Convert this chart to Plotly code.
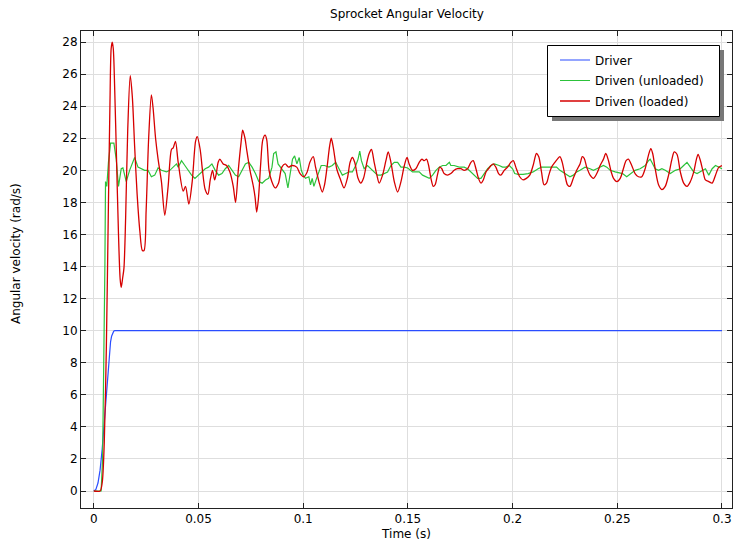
import plotly.graph_objects as go

# ---------------- data ----------------
t_driver = [0, 0.001, 0.002, 0.003, 0.004, 0.005, 0.006, 0.007, 0.008, 0.0085, 0.009, 0.0095, 0.010, 0.3]
v_driver = [0, 0.1, 0.5, 1.3, 2.6, 4.3, 6.2, 8.0, 9.3, 9.65, 9.88, 9.97, 10, 10]

t_unloaded = [
    0, 0.0035, 0.0042, 0.0048, 0.0053, 0.0056, 0.0062, 0.0070, 0.0080, 0.0096,
    0.0107, 0.0118, 0.0131, 0.0139, 0.0155, 0.0171, 0.0187, 0.0195, 0.0211, 0.0227,
    0.0243, 0.0259, 0.0275, 0.0291, 0.0307, 0.0323, 0.0347, 0.0363, 0.0379, 0.0395,
    0.0403, 0.0419, 0.0435, 0.0451, 0.0467, 0.0483, 0.0500, 0.0516, 0.0532, 0.0548,
    0.0564, 0.0580, 0.0596, 0.0612, 0.0628, 0.0644, 0.0660, 0.0676, 0.0692, 0.0708,
    0.0724, 0.0740, 0.0756, 0.0772, 0.0788, 0.0804, 0.0820, 0.0835, 0.0851, 0.0859,
    0.0870, 0.0880, 0.0891, 0.0902, 0.0914, 0.0927, 0.0938, 0.0949, 0.0959, 0.0970,
    0.0981, 0.0991, 0.1000, 0.1011, 0.1027, 0.1035, 0.1043, 0.1051, 0.1064, 0.1075,
    0.1086, 0.1102, 0.1123, 0.1139, 0.1155, 0.1171, 0.1187, 0.1203, 0.1219, 0.1235,
    0.1251, 0.1262, 0.1270, 0.1278, 0.1291, 0.1307, 0.1323, 0.1339, 0.1355, 0.1371,
    0.1387, 0.1403, 0.1419, 0.1435, 0.1451, 0.1467, 0.1483, 0.1499, 0.1522, 0.1554,
    0.1570, 0.1586, 0.1602, 0.1618, 0.1634, 0.1650, 0.1666, 0.1682, 0.1698, 0.1705,
    0.1721, 0.1745, 0.1769, 0.1785, 0.1801, 0.1817, 0.1833, 0.1849, 0.1865, 0.1881,
    0.1897, 0.1913, 0.1936, 0.1952, 0.1968, 0.1984, 0.2000, 0.2010, 0.2026, 0.2050,
    0.2074, 0.2098, 0.2122, 0.2138, 0.2162, 0.2186, 0.2210, 0.2226, 0.2250, 0.2274,
    0.2290, 0.2306, 0.2322, 0.2346, 0.2370, 0.2386, 0.2402, 0.2418, 0.2434, 0.2450,
    0.2466, 0.2490, 0.2506, 0.2525, 0.2545, 0.2561, 0.2585, 0.2609, 0.2633, 0.2649,
    0.2657, 0.2665, 0.2681, 0.2697, 0.2713, 0.2729, 0.2753, 0.2777, 0.2801, 0.2817,
    0.2833, 0.2849, 0.2865, 0.2881, 0.2905, 0.2921, 0.2937, 0.2953, 0.2969, 0.2985,
    0.3000,
]
v_unloaded = [
    0, 0, 2, 7, 14, 19.3, 19.0, 20.5, 21.7, 21.7,
    20.7, 19.0, 20.1, 20.15, 19.3, 20.0, 20.5, 20.8, 20.2, 20.1,
    20.0, 20.0, 19.6, 19.7, 20.15, 20.0, 19.9, 20.0, 20.2, 20.4,
    20.2, 20.6, 20.3, 20.0, 19.7, 19.5, 19.7, 19.9, 20.1, 20.2,
    20.4, 20.0, 19.7, 19.8, 20.1, 20.3, 20.0, 19.7, 19.6, 20.0,
    20.4, 20.5, 20.2, 19.8, 19.3, 19.2, 19.4, 19.5, 20.2, 21.05,
    21.15, 20.4, 20.2, 20.0, 19.8, 18.9, 19.8, 20.7, 20.9, 20.4,
    20.8, 20.0, 19.7, 19.5, 19.6, 19.1, 19.5, 19.0, 19.5, 19.9,
    20.3, 20.3, 20.2, 20.3, 20.5, 20.1, 19.7, 19.8, 19.9, 19.9,
    20.3, 20.7, 21.2, 20.6, 20.1, 20.3, 20.1, 19.9, 19.7, 19.7,
    19.8, 19.9, 20.3, 20.5, 20.5, 20.2, 20.2, 20.15, 19.9, 19.9,
    19.7, 19.6, 19.5, 19.7, 20.0, 20.2, 20.3, 20.3, 20.5, 20.3,
    20.3, 20.2, 20.2, 20.1, 19.9, 19.7, 19.5, 19.5, 19.8, 20.1,
    20.3, 20.4, 20.3, 20.2, 20.2, 20.3, 20.1, 19.8, 19.75, 19.75,
    19.8, 19.9, 20.1, 20.2, 20.2, 20.2, 20.2, 20.0, 19.8, 19.6,
    19.7, 19.9, 20.0, 20.2, 20.1, 20.0, 20.1, 20.2, 20.3, 20.2,
    20.0, 19.9, 19.85, 19.8, 19.6, 19.75, 20.0, 20.1, 20.3, 20.6,
    20.7, 20.5, 20.1, 20.0, 20.1, 20.0, 19.8, 20.0, 20.1, 20.3,
    20.5, 20.2, 19.9, 19.8, 20.0, 20.1, 19.7, 20.1, 20.3, 20.2,
    20.1,
]

t_loaded = [
    0, 0.003, 0.004, 0.005, 0.006, 0.007, 0.0077, 0.0083, 0.0088, 0.0093,
    0.0100, 0.0108, 0.0118, 0.0126, 0.0131, 0.0138, 0.0144, 0.0152, 0.0162, 0.0174,
    0.0184, 0.0195, 0.0207, 0.0220, 0.0232, 0.0240, 0.0250, 0.0262, 0.0275, 0.0283,
    0.0295, 0.0307, 0.0323, 0.0339, 0.0355, 0.0371, 0.0379, 0.0390, 0.0403, 0.0427,
    0.0438, 0.0454, 0.0470, 0.0486, 0.0494, 0.0508, 0.0519, 0.0532, 0.0545, 0.0556,
    0.0567, 0.0577, 0.0585, 0.0594, 0.0602, 0.0618, 0.0634, 0.0650, 0.0666, 0.0677,
    0.0690, 0.0703, 0.0711, 0.0722, 0.0730, 0.0746, 0.0762, 0.0770, 0.0778, 0.0786,
    0.0797, 0.0807, 0.0818, 0.0826, 0.0837, 0.0850, 0.0866, 0.0882, 0.0898, 0.0914,
    0.0930, 0.0946, 0.0969, 0.0985, 0.1003, 0.1019, 0.1032, 0.1048, 0.1059, 0.1075,
    0.1091, 0.1102, 0.1115, 0.1126, 0.1134, 0.1144, 0.1160, 0.1176, 0.1195, 0.1211,
    0.1224, 0.1235, 0.1246, 0.1262, 0.1275, 0.1288, 0.1304, 0.1315, 0.1326, 0.1339,
    0.1352, 0.1363, 0.1379, 0.1395, 0.1406, 0.1419, 0.1435, 0.1451, 0.1467, 0.1483,
    0.1496, 0.1506, 0.1522, 0.1538, 0.1554, 0.1567, 0.1578, 0.1589, 0.1599, 0.1610,
    0.1621, 0.1630, 0.1641, 0.1652, 0.1662, 0.1673, 0.1689, 0.1705, 0.1721, 0.1737,
    0.1753, 0.1769, 0.1785, 0.1801, 0.1812, 0.1825, 0.1837, 0.1849, 0.1860, 0.1873,
    0.1885, 0.1897, 0.1908, 0.1920, 0.1933, 0.1944, 0.1960, 0.1976, 0.1992, 0.2003,
    0.2018, 0.2034, 0.2050, 0.2066, 0.2082, 0.2098, 0.2114, 0.2125, 0.2138, 0.2150,
    0.2162, 0.2173, 0.2186, 0.2202, 0.2214, 0.2226, 0.2237, 0.2250, 0.2262, 0.2274,
    0.2290, 0.2306, 0.2322, 0.2333, 0.2342, 0.2354, 0.2370, 0.2386, 0.2402, 0.2418,
    0.2434, 0.2445, 0.2458, 0.2471, 0.2482, 0.2498, 0.2514, 0.2529, 0.2542, 0.2553,
    0.2569, 0.2585, 0.2601, 0.2617, 0.2633, 0.2649, 0.2660, 0.2669, 0.2681, 0.2697,
    0.2713, 0.2729, 0.2745, 0.2761, 0.2772, 0.2785, 0.2801, 0.2817, 0.2833, 0.2849,
    0.2865, 0.2878, 0.2886, 0.2897, 0.2910, 0.2921, 0.2937, 0.2953, 0.2969, 0.2985,
    0.3000,
]
v_loaded = [
    0, 0, 0.5, 3, 9, 18, 24, 27.6, 28.0, 27.6,
    25, 21, 16, 13.2, 12.7, 13.3, 13.9, 17, 22.5, 25.9,
    24.6, 21.5, 18.5, 16.2, 15.0, 15.0, 17.5, 22, 24.7, 23.9,
    22, 20.7, 19.3, 17.2, 19.0, 21.3, 21.4, 21.8, 20.5, 18.7,
    19.0, 17.9, 19.3, 21.8, 22.1, 21.3, 20.0, 18.8, 18.5, 19.4,
    20.0, 19.4, 19.8, 20.5, 20.7, 20.4, 20.3, 19.9, 19.0, 18.0,
    20.0, 21.7, 22.5, 22.0, 21.3, 20.0, 19.0, 18.35, 17.4, 18.2,
    20.4, 21.9, 22.2, 21.9, 20.0, 19.3, 18.9, 19.2, 20.2, 20.4,
    20.2, 20.3, 20.2, 19.8, 19.6, 19.9, 20.5, 20.85, 20.2, 19.3,
    18.65, 19.1, 20.3, 21.5, 22.0, 21.4, 20.1, 19.5, 18.9, 19.5,
    20.5, 20.8, 20.5, 19.5, 19.2, 19.5, 20.5, 21.05, 21.3, 20.5,
    19.7, 19.2, 19.7, 20.6, 21.15, 20.5, 19.3, 18.65, 19.3, 20.3,
    20.8, 20.4, 20.0, 20.1, 20.5, 20.7, 20.6, 20.7, 20.3, 19.5,
    19.0, 19.1, 19.7, 20.2, 20.1, 19.8, 19.7, 19.8, 20.0, 20.1,
    20.1, 20.0, 20.1, 20.5, 20.6, 20.1, 19.5, 19.2, 19.4, 19.9,
    20.1, 20.3, 20.4, 20.2, 19.8, 19.7, 20.0, 20.2, 20.5, 20.6,
    20.1, 19.6, 19.4, 19.5, 19.7, 20.3, 21.05, 20.85, 19.9, 19.1,
    19.2, 19.7, 20.2, 20.5, 20.7, 20.85, 20.5, 19.7, 19.1, 19.0,
    19.5, 20.0, 20.4, 20.85, 20.75, 20.2, 19.7, 19.5, 19.8, 20.3,
    20.7, 21.05, 20.6, 19.9, 19.5, 19.3, 19.5, 20.1, 20.6, 20.7,
    20.3, 19.8, 19.6, 19.6, 20.1, 20.95, 21.35, 21.05, 20.1, 19.1,
    18.8, 19.0, 19.7, 20.7, 21.15, 21.0, 19.9, 19.2, 19.0, 19.3,
    19.9, 20.7, 21.0, 20.6, 19.9, 19.4, 19.3, 19.2, 19.7, 20.2,
    20.3,
]

x_tickvals = [0, 0.05, 0.1, 0.15, 0.2, 0.25, 0.3]
x_ticktext = ["0", "0.05", "0.1", "0.15", "0.2", "0.25", "0.3"]
y_tickvals = list(range(0, 29, 2))
y_ticktext = [str(v) for v in y_tickvals]

series_names = ["Driver", "Driven (unloaded)", "Driven (loaded)"]
series_colors = ["#2a4dff", "#2cc23a", "#d60000"]

# ---------------- layout geometry (pixels) ----------------
W, H = 735, 542
L, R, T, B = 81, 732, 31, 508
pw, ph = R - L, B - T


def px_x(p):
    return (p - L) / pw


def px_y(p):
    return (B - p) / ph


FONT = "DejaVu Sans"

fig = go.Figure()
fig.add_trace(go.Scatter(x=t_driver, y=v_driver, mode="lines", name=series_names[0],
                         legendgroup="a",
                         line=dict(color=series_colors[0], width=1.2)))
fig.add_trace(go.Scatter(x=t_unloaded, y=v_unloaded, mode="lines", name=series_names[1],
                         legendgroup="b",
                         line=dict(color=series_colors[1], width=1.2)))
fig.add_trace(go.Scatter(x=t_loaded, y=v_loaded, mode="lines", name=series_names[2],
                         legendgroup="c",
                         line=dict(color=series_colors[2], width=1.3, shape="spline", smoothing=0.8)))

axis_common = dict(
    showline=True, linecolor="#222222", linewidth=1, mirror="allticks",
    ticks="inside", ticklen=5, tickcolor="#222222", tickwidth=1,
    showgrid=True, gridcolor="#dedede", gridwidth=1, zeroline=False,
    tickfont=dict(family=FONT, size=12, color="#000000"),
)

fig.update_layout(
    width=W, height=H,
    margin=dict(l=L, r=W - R, t=T, b=H - B, pad=0),
    paper_bgcolor="white", plot_bgcolor="white",
    font=dict(family=FONT, size=12, color="#000000"),
    title=dict(text="Sprocket Angular Velocity", x=407 / W, xanchor="center",
               y=1 - 14 / H, yanchor="middle", font=dict(family=FONT, size=12, color="#000000")),
    xaxis=dict(range=[-0.00611, 0.30478], tickvals=x_tickvals, ticktext=x_ticktext,
               title=dict(text="Time (s)", standoff=4, font=dict(family=FONT, size=12)),
               **axis_common),
    yaxis=dict(range=[-1.06, 28.69], tickvals=y_tickvals, ticktext=y_ticktext,
               **axis_common),
    showlegend=True,
    legend=dict(x=px_x(555), y=px_y(45.5), xanchor="left", yanchor="top",
                bgcolor="rgba(0,0,0,0)", borderwidth=0, tracegroupgap=1.5,
                font=dict(family=FONT, size=12, color="#000000")),
)

# legend drop shadow and box
fig.add_shape(type="rect", xref="paper", yref="paper",
              x0=px_x(552), x1=px_x(724), y0=px_y(121), y1=px_y(50),
              fillcolor="#777777", line=dict(width=0), layer="above")
fig.add_shape(type="rect", xref="paper", yref="paper",
              x0=px_x(547.5), x1=px_x(719.5), y0=px_y(116.5), y1=px_y(45.5),
              fillcolor="white", line=dict(color="#000000", width=1), layer="above")

# y axis title
fig.add_annotation(text="Angular velocity (rad/s)", xref="paper", yref="paper",
                   x=px_x(16), y=px_y(254), textangle=-90, showarrow=False,
                   xanchor="center", yanchor="middle",
                   font=dict(family=FONT, size=12, color="#000000"))

fig.write_html("out.html")
